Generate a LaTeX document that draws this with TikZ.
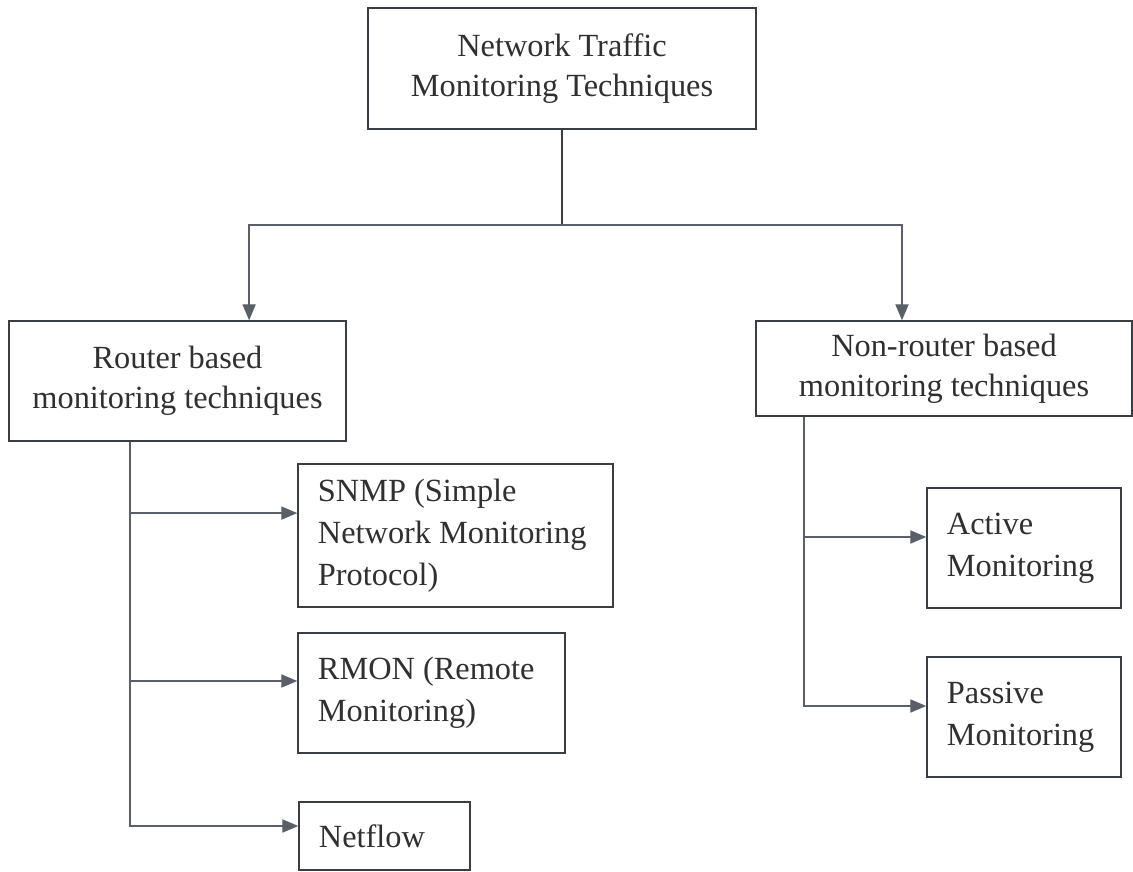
\documentclass[tikz,border=0pt]{standalone}
\usepackage{fontspec}
\setmainfont{Liberation Serif}
\usepackage{tikz}
\usepackage{xcolor}
\usetikzlibrary{arrows.meta}
\definecolor{boxGray}{HTML}{3A3D42}
\definecolor{arrowGray}{HTML}{5B6068}
\definecolor{textGray}{HTML}{303030}

\begin{document}
\begin{tikzpicture}[
        x=0.025cm, y=-0.025cm,
        every node/.style={font=\fontsize{23}{28.5}\selectfont,text=textGray},
        box/.style={rectangle,draw=boxGray,fill=white,inner sep=0pt,
                    align=center,line width=1pt},
        leaf/.style={rectangle,draw=boxGray,fill=white,inner xsep=0.5cm,
                     inner ysep=0pt,align=flush left,line width=1pt,text width=#1,
                     font=\fontsize{23}{30}\selectfont},
        arr/.style={-{Triangle[length=4mm,width=3.3mm]},color=arrowGray,line width=1pt}
      ]
        \useasboundingbox (0,0) rectangle (1133,872);
        \node[box,minimum width=9.7cm,minimum height=3.025cm] (ntmt) at (562,68.5)
          {Network Traffic\\Monitoring Techniques};
        \node[box,minimum width=8.425cm,minimum height=3cm] (router) at (177.5,381)
          {Router based\\monitoring techniques};
        \node[box,minimum width=9.4cm,minimum height=2.375cm] (nonrouter) at (944,368.5)
          {Non-router based\\monitoring techniques};
        \node[leaf=6.875cm,minimum height=3.575cm] (snmp) at (455.5,535.5)
          {SNMP (Simple\\Network Monitoring\\Protocol)};
        \node[leaf=5.675cm,minimum height=3cm] (rmon) at (431.5,693)
          {RMON (Remote\\Monitoring)};
        \node[leaf=3.275cm,minimum height=1.7cm] (netflow) at (384.5,836) {Netflow};
        \node[leaf=3.85cm,minimum height=3cm] (active) at (1024,548)
          {Active\\Monitoring};
        \node[leaf=3.85cm,minimum height=3cm] (passive) at (1024,717)
          {Passive\\Monitoring};

        % split below the top box
        \coordinate (split) at (ntmt.south |- 0,225);
        \draw[color=boxGray,line width=1pt] (ntmt.south) -- (split);
        \draw[arr] (split) -| ([xshift=1.79cm]router.north);
        \draw[arr] (split) -| ([xshift=-1.05cm]nonrouter.north);

        % router based branch
        \coordinate (rt) at ([xshift=-1.19cm]router.south);
        \coordinate (snmpin) at ([yshift=5.6mm]snmp.west);
        \coordinate (rmonin) at ([yshift=3mm]rmon.west);
        \draw[color=boxGray,line width=1pt] (rt) -- (rt |- snmpin);
        \draw[arr] (rt |- snmpin) -- (snmpin);
        \draw[arr] (rt |- rmonin) -- (rmonin);
        \draw[arr] (rt) |- ([yshift=2.5mm]netflow.west);

        % non-router based branch
        \coordinate (nt) at ([xshift=-3.5cm]nonrouter.south);
        \coordinate (activein) at ([yshift=2.75mm]active.west);
        \draw[color=boxGray,line width=1pt] (nt) -- (nt |- activein);
        \draw[arr] (nt |- activein) -- (activein);
        \draw[arr] (nt) |- ([yshift=2.75mm]passive.west);
      \end{tikzpicture}
\end{document}
